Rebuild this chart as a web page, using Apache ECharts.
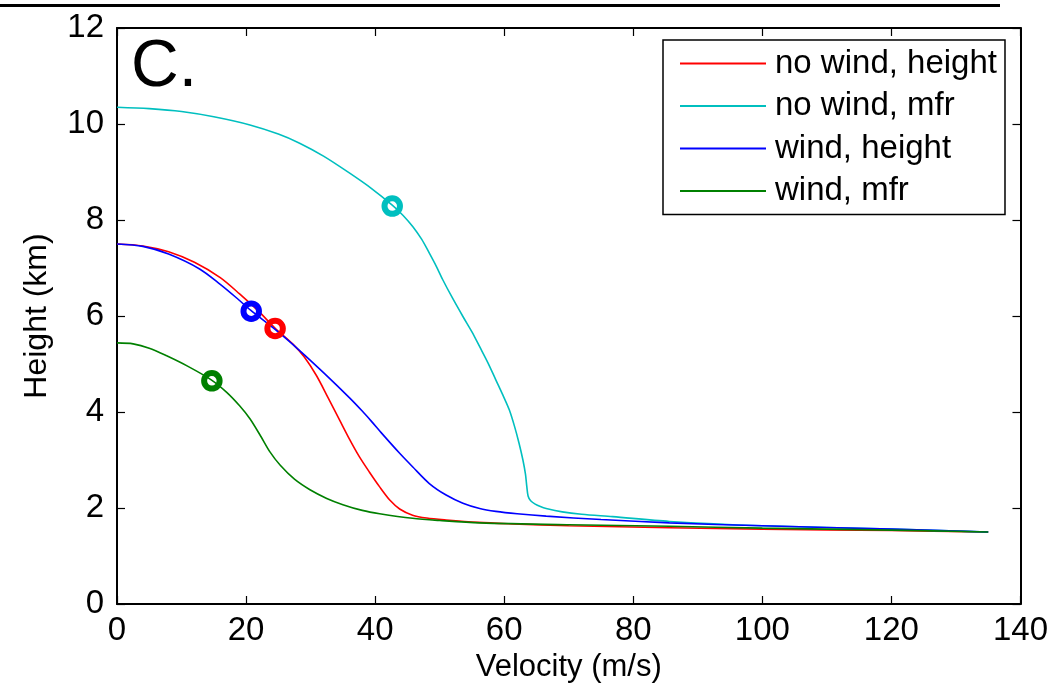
<!DOCTYPE html>
<html>
<head>
<meta charset="utf-8">
<script src="https://cdn.jsdelivr.net/npm/echarts@6/dist/echarts.min.js"></script>
<style>
html,body{margin:0;padding:0;background:#fff;}
#chart{width:1051px;height:691px;}
</style>
</head>
<body>
<div id="chart"></div>
<script>
// ---- data (velocity m/s, height km) ----
const xTicks = [0, 20, 40, 60, 80, 100, 120, 140];
const yTicks = [0, 2, 4, 6, 8, 10, 12];
const seriesNames = ['no wind, height', 'no wind, mfr', 'wind, height', 'wind, mfr'];

const noWindHeight = [[0,7.5],[4,7.46],[8,7.34],[12,7.12],[16,6.8],[19,6.46],[22,6.09],[24.4,5.76],[27.3,5.41],[29,5.15],[30.9,4.76],[32.7,4.3],[34.5,3.83],[36,3.44],[37.5,3.08],[39.1,2.75],[40.7,2.44],[42.3,2.16],[43.8,1.98],[45.8,1.85],[48,1.79],[51,1.75],[56,1.7],[61.3,1.67],[70,1.63],[85.6,1.59],[100,1.56],[120,1.53],[135,1.5]];
const noWindMfr = [[0,10.35],[5,10.32],[10,10.26],[15,10.15],[20.6,9.98],[25,9.79],[28.3,9.6],[32,9.33],[36,8.98],[39.5,8.65],[42.65,8.31],[44.3,8.1],[45.85,7.86],[47.2,7.6],[48.4,7.31],[49.5,7.03],[50.5,6.75],[52,6.37],[53.6,5.99],[55,5.67],[56.2,5.36],[57.5,5.02],[58.7,4.67],[59.8,4.35],[60.8,4.04],[61.6,3.7],[62.3,3.35],[62.9,3.0],[63.3,2.7],[63.5,2.45],[63.7,2.25],[64.1,2.15],[64.8,2.08],[65.6,2.03],[66.5,1.99],[69,1.92],[72,1.87],[76.8,1.82],[85.6,1.72],[100,1.63],[120,1.56],[135,1.5]];
const windHeight = [[0,7.5],[4,7.45],[8,7.29],[12.8,6.98],[16,6.66],[18.5,6.38],[20.7,6.12],[24.5,5.72],[28.3,5.28],[32,4.82],[36,4.3],[38,4.02],[39.4,3.81],[41,3.56],[43.8,3.14],[45.8,2.86],[48.4,2.51],[51,2.27],[53.6,2.1],[56.2,1.99],[58.7,1.93],[62,1.88],[66.5,1.83],[75,1.76],[85.6,1.69],[100,1.63],[120,1.56],[135,1.5]];
const windMfr = [[0,5.44],[2.5,5.42],[5,5.33],[7.7,5.17],[11,4.95],[14.6,4.67],[17,4.41],[19,4.13],[20.6,3.86],[22.3,3.49],[23.7,3.17],[25.3,2.89],[27.5,2.6],[29.9,2.38],[32.5,2.2],[35,2.07],[38,1.95],[40.7,1.88],[45.8,1.785],[50,1.74],[56.2,1.69],[70,1.65],[85.6,1.62],[100,1.58],[120,1.54],[135,1.5]];

// circle markers
const markNoWindHeight = [[24.5, 5.74]];
const markNoWindMfr = [[42.65, 8.29]];
const markWindHeight = [[20.8, 6.1]];
const markWindMfr = [[14.7, 4.65]];

const colors = ['#ff0000', '#00bfbf', '#0000ff', '#008000'];
const lines = [noWindHeight, noWindMfr, windHeight, windMfr];
const marks = [markNoWindHeight, markNoWindMfr, markWindHeight, markWindMfr];

const FONT = '"Liberation Sans", Arial, Helvetica, sans-serif';

const series = [];
lines.forEach((d, i) => {
  series.push({
    name: seriesNames[i], type: 'line', data: d, showSymbol: false, symbol: 'none',
    smooth: 0.3,
    lineStyle: { color: colors[i], width: 1.6 }, itemStyle: { color: colors[i] },
    z: 3, animation: false
  });
});
marks.forEach((d, i) => {
  series.push({
    name: 'marker ' + i, type: 'scatter', data: d, symbol: 'circle', symbolSize: 15.5,
    itemStyle: { color: 'rgba(0,0,0,0)', borderColor: colors[i], borderWidth: 6, opacity: 1 },
    z: 5, animation: false
  });
});

const axisCommon = {
  axisLine: { show: true, onZero: false, lineStyle: { color: '#000', width: 2 } },
  axisTick: { show: true, inside: true, length: 8, lineStyle: { color: '#000', width: 1.2 } },
  splitLine: { show: false }
};

const chart = echarts.init(document.getElementById('chart'), null, { renderer: 'canvas' });
chart.setOption({
  animation: false,
  backgroundColor: '#fff',
  textStyle: { fontFamily: FONT },
  grid: { left: 117, right: 29, top: 28, bottom: 87, containLabel: false },
  xAxis: [
    Object.assign({
      type: 'value', min: 0, max: 140, interval: 20, position: 'bottom',
      name: 'Velocity (m/s)', nameLocation: 'middle', nameGap: 40,
      nameTextStyle: { fontSize: 31, color: '#000', fontFamily: FONT },
      axisLabel: { fontSize: 33, color: '#000', margin: 10, fontFamily: FONT,
        formatter: v => xTicks.includes(v) ? String(v) : '' }
    }, axisCommon),
    Object.assign({
      type: 'value', min: 0, max: 140, interval: 20, position: 'top',
      axisLabel: { show: false }
    }, axisCommon)
  ],
  yAxis: [
    Object.assign({
      type: 'value', min: 0, max: 12, interval: 2, position: 'left',
      name: 'Height (km)', nameLocation: 'middle', nameGap: 64, nameRotate: 90,
      nameTextStyle: { fontSize: 32, color: '#000', fontFamily: FONT },
      axisLabel: { fontSize: 33, color: '#000', margin: 13, fontFamily: FONT,
        formatter: v => yTicks.includes(v) ? String(v) : '' }
    }, axisCommon),
    Object.assign({
      type: 'value', min: 0, max: 12, interval: 2, position: 'right',
      axisLabel: { show: false }
    }, axisCommon)
  ],
  legend: {
    data: seriesNames,
    orient: 'vertical', left: 663, top: 40,
    padding: [7, 8, 7, 17],
    borderColor: '#000', borderWidth: 1.5, backgroundColor: '#fff',
    icon: 'rect', itemWidth: 86, itemHeight: 2, itemGap: 9.5,
    textStyle: { fontSize: 33, color: '#000', fontFamily: FONT, lineHeight: 31, padding: [0, 0, 0, 4] },
    selectedMode: false
  },
  graphic: [
    { type: 'rect', left: 0, top: 4, shape: { width: 1000, height: 3 }, style: { fill: '#000' } },
    { type: 'text', left: 131, top: 35, style: { text: 'C.', font: '66px ' + FONT, fill: '#000' }, z: 10 }
  ],
  series: series
});
</script>
</body>
</html>
